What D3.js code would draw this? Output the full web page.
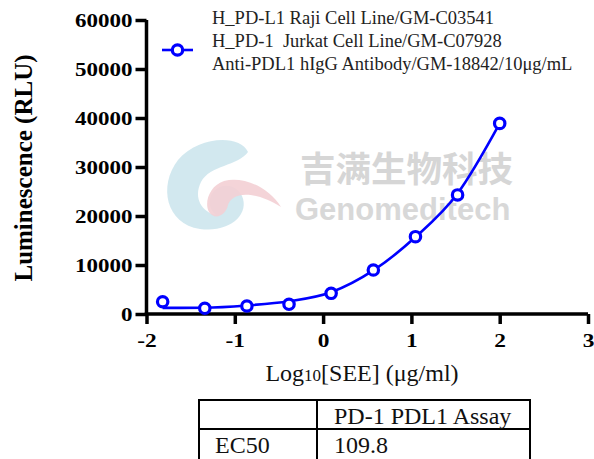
<!DOCTYPE html>
<html><head><meta charset="utf-8">
<script src="https://cdn.jsdelivr.net/npm/d3@7"></script>
<style>
html,body{margin:0;padding:0;background:#fff;}
svg{display:block;}
</style></head>
<body>
<script>
// ---- data ----
const logDose = [-1.817, -1.340, -0.863, -0.386, 0.091, 0.569, 1.046, 1.523, 2.0];
const luminescence = [2500, 1160, 1630, 1980, 4220, 8980, 15780, 24300, 38900];
// fitted curve
const fitX = [-1.817, -1.340, -0.863, -0.386, 0.091, 0.569, 1.046, 1.523, 2.0];
const fitY = [1250, 1290, 1750, 2600, 4450, 8900, 15700, 24600, 38900];
const yTicks = [0, 10000, 20000, 30000, 40000, 50000, 60000];
const xTicks = [-2, -1, 0, 1, 2, 3];
const legendLines = ["H_PD-L1 Raji Cell Line/GM-C03541", "H_PD-1  Jurkat Cell Line/GM-C07928", "Anti-PDL1 hIgG Antibody/GM-18842/10\u03bcg/mL"];
const tableHeader = ["", "PD-1 PDL1 Assay"];
const tableRow = ["EC50", "109.8"];

const W = 594, H = 459;
const svg = d3.select("body").append("svg").attr("width", W).attr("height", H);
svg.append("rect").attr("width", W).attr("height", H).attr("fill", "#fff");

const x = d3.scaleLinear().domain([-2, 3]).range([146.5, 588]);
const y = d3.scaleLinear().domain([0, 60000]).range([314, 20]);
const serif = "'Liberation Serif','Times New Roman',serif";
const blue = "#0000ff";

// ---- watermark ----
const wm = svg.append("g");
wm.append("path")
  .attr("d", "M248,152 C240,134 198,136 178,160 C158,186 166,224 200,229 C230,233 250,214 242,196 C236,184 222,183 214,191 C207,199 209,210 216,215 C202,212 193,198 201,182 C210,165 238,166 248,152 Z")
  .attr("fill", "#cde6ed").attr("opacity", 0.9);
wm.append("path")
  .attr("d", "M281,207 C268,186 242,176 224,181 C209,186 204,203 209,212 C215,221 226,215 228,205 C232,192 254,190 281,207 Z")
  .attr("fill", "#f3cfd4").attr("opacity", 0.9);
wm.append("text").attr("x", 300).attr("y", 182)
  .attr("font-family", "'Noto Sans CJK SC',sans-serif").attr("font-weight", 700)
  .attr("font-size", 35.5).attr("fill", "#d6d6d6").text("吉满生物科技");
wm.append("text").attr("x", 295).attr("y", 220)
  .attr("font-family", "'Liberation Sans',Arial,sans-serif").attr("font-weight", 700)
  .attr("font-size", 31).attr("fill", "#d8d8d8").text("Genomeditech");

// ---- axes ----
const fmt = d => String(d).replace("\u2212", "-");
const yAxis = d3.axisLeft(y).tickValues(yTicks).tickSize(11).tickPadding(3).tickFormat(fmt);
const gy = svg.append("g").attr("transform", `translate(${x(-2)},0)`).call(yAxis);
const xAxis = d3.axisBottom(x).tickValues(xTicks).tickSize(10).tickPadding(9).tickFormat(fmt);
const gx = svg.append("g").attr("transform", `translate(0,${y(0)})`).call(xAxis);
[gx, gy].forEach(g => {
  g.attr("font-family", serif);
  g.select(".domain").attr("stroke", "#000").attr("stroke-width", 3.5);
  g.selectAll(".tick line").attr("stroke", "#000").attr("stroke-width", 3.5);
  g.selectAll(".tick text").attr("font-family", serif).attr("font-weight", 700)
    .attr("font-size", 19.5).attr("fill", "#000");
});
gy.select(".domain").attr("d", `M0,${y(0)}V${y(60000)}`);
gx.select(".domain").attr("d", `M${x(-2)-1.75},0H${x(3)}`);
gy.selectAll(".tick text").attr("dy", "0.35em")
  .each(function () { const t = d3.select(this); const xx = +t.attr("x");
    t.attr("transform", `translate(${xx},0) scale(1.18,1)`).attr("x", 0); });
gx.selectAll(".tick text").attr("dy", "0.71em")
  .each(function () { const t = d3.select(this); const yy = +t.attr("y");
    t.attr("transform", `translate(0,${yy}) scale(1.2,1)`).attr("y", 0); });

// axis titles
svg.append("text").attr("transform", "translate(32,168) rotate(-90)")
  .attr("text-anchor", "middle").attr("font-family", serif).attr("font-weight", 700)
  .attr("font-size", 25).attr("fill", "#000").text("Luminescence (RLU)");
const xl = svg.append("text").attr("x", 362).attr("y", 381).attr("text-anchor", "middle")
  .attr("font-family", serif).attr("font-size", 24).attr("fill", "#111");
xl.append("tspan").text("Log");
xl.append("tspan").attr("font-size", 17).text("10");
xl.append("tspan").text("[SEE] (\u03bcg/ml)");

// ---- curve & points ----
const fit = fitX.map((d, i) => [d, fitY[i]]);
svg.append("path").datum(fit)
  .attr("d", d3.line().x(d => x(d[0])).y(d => y(d[1])).curve(d3.curveMonotoneX))
  .attr("fill", "none").attr("stroke", blue).attr("stroke-width", 2.6);
svg.selectAll("circle.pt").data(logDose.map((d, i) => [d, luminescence[i]])).join("circle")
  .attr("class", "pt").attr("cx", d => x(d[0])).attr("cy", d => y(d[1])).attr("r", 5.2)
  .attr("fill", "#fff").attr("stroke", blue).attr("stroke-width", 3.2);

// ---- legend ----
const lg = svg.append("g");
lg.append("line").attr("x1", 162).attr("x2", 193).attr("y1", 50).attr("y2", 50)
  .attr("stroke", blue).attr("stroke-width", 2.6);
lg.append("circle").attr("cx", 177.5).attr("cy", 50).attr("r", 5.2)
  .attr("fill", "#fff").attr("stroke", blue).attr("stroke-width", 3.2);
lg.selectAll("text").data(legendLines).join("text")
  .attr("x", 212).attr("y", (d, i) => 23.5 + i * 23.3)
  .attr("font-family", serif).attr("font-size", 18.5).attr("fill", "#222")
  .attr("xml:space", "preserve").style("white-space", "pre").text(d => d);

// ---- table ----
const tb = svg.append("g");
const tx0 = 199, tx1 = 317, tx2 = 530, ty0 = 400, ty1 = 429, ty2 = 462;
tb.append("path").attr("d", `M${tx0},${ty2}V${ty0}H${tx2}V${ty2} M${tx0},${ty1}H${tx2} M${tx1},${ty0}V${ty2}`)
  .attr("fill", "none").attr("stroke", "#000").attr("stroke-width", 2);
tb.append("text").attr("x", 334).attr("y", 424).attr("font-family", serif).attr("font-size", 24)
  .attr("fill", "#111").text(tableHeader[1]);
tb.append("text").attr("x", 215).attr("y", 453).attr("font-family", serif).attr("font-size", 24)
  .attr("fill", "#111").text(tableRow[0]);
tb.append("text").attr("x", 334).attr("y", 453).attr("font-family", serif).attr("font-size", 24)
  .attr("fill", "#111").text(tableRow[1]);
</script>
</body></html>
